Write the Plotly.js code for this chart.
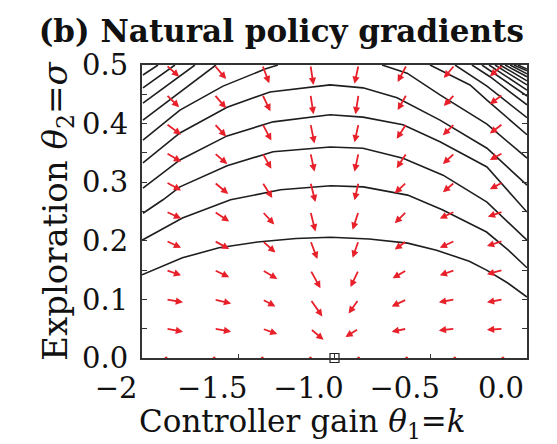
<!DOCTYPE html>
<html>
<head>
<meta charset="utf-8">
<script src="https://cdn.plot.ly/plotly-3.0.1.min.js"></script>
<style>html,body{margin:0;padding:0;background:#fff;}#chart{width:557px;height:444px;}</style>
</head>
<body>
<div id="chart"></div>
<script>
// Vector-field grid (arrow tails)
const K_GRID = [-1.875, -1.625, -1.375, -1.125, -0.875, -0.625, -0.375, -0.125];
const S_GRID = [0.05, 0.10, 0.15, 0.20, 0.25, 0.30, 0.35, 0.40, 0.45, 0.50];
// Natural-gradient components (d theta1, d theta2) per row of S_GRID
const U = [
  [0.088, 0.088, 0.078, 0.068, -0.068, -0.078, -0.083, -0.083],
  [0.088, 0.088, 0.068, 0.062, -0.052, -0.078, -0.083, -0.083],
  [0.078, 0.078, 0.078, 0.052, -0.042, -0.073, -0.078, -0.083],
  [0.078, 0.078, 0.068, 0.036, -0.031, -0.062, -0.078, -0.083],
  [0.078, 0.078, 0.062, 0.026, -0.031, -0.062, -0.078, -0.078],
  [0.078, 0.073, 0.052, 0.026, -0.021, -0.062, -0.062, -0.068],
  [0.078, 0.068, 0.047, 0.021, -0.021, -0.052, -0.062, -0.068],
  [0.078, 0.062, 0.047, 0.021, -0.021, -0.052, -0.062, -0.068],
  [0.068, 0.062, 0.042, 0.016, -0.016, -0.047, -0.057, -0.068],
  [0.068, 0.062, 0.036, 0.016, -0.021, -0.047, -0.057, -0.068]
];
const V = [
  [-0.005, -0.005, -0.009, -0.019, -0.014, -0.005, -0.003, -0.002],
  [-0.005, -0.007, -0.012, -0.029, -0.024, -0.012, -0.005, -0.005],
  [-0.009, -0.012, -0.015, -0.031, -0.029, -0.014, -0.009, -0.007],
  [-0.012, -0.014, -0.020, -0.031, -0.029, -0.015, -0.012, -0.009],
  [-0.012, -0.017, -0.022, -0.034, -0.031, -0.020, -0.012, -0.009],
  [-0.014, -0.020, -0.027, -0.034, -0.031, -0.019, -0.017, -0.012],
  [-0.015, -0.019, -0.027, -0.032, -0.032, -0.026, -0.019, -0.012],
  [-0.019, -0.022, -0.029, -0.034, -0.032, -0.026, -0.020, -0.017],
  [-0.022, -0.024, -0.029, -0.034, -0.034, -0.027, -0.020, -0.017],
  [-0.020, -0.024, -0.031, -0.034, -0.032, -0.029, -0.022, -0.019]
];
// Contour lines of the expected cost
const contourK = [
  [-2, -1.79, -1.60, -1.40, -1.20, -1.02, -0.82, -0.62, -0.47, -0.30, -0.21, -0.10, 0],
  [-2, -1.79, -1.54, -1.28, -1.02, -0.85, -0.62, -0.44, -0.21, -0.10, 0],
  [-1.995, -1.891, -1.803, -1.558, -1.319, -1.023, -0.852, -0.644, -0.436, -0.208, 0],
  [-1.995, -1.803, -1.558, -1.319, -1.023, -0.852, -0.644, -0.452, -0.208, 0],
  [-1.995, -1.803, -1.558, -1.335, -1.023, -0.852, -0.675, -0.452, -0.208, 0],
  [-1.995, -1.803, -1.579, -1.361, -1.294],
  [-0.753, -0.623, -0.452, -0.208, 0],
  [-1.995, -1.829, -1.631, -1.616],
  [-1.995, -1.855, -1.725],
  [-1.995, -1.829],
  [-1.995, -1.917],
  [-0.504, -0.296, -0.208, 0],
  [-0.374, -0.208, 0],
  [-0.286, -0.192, 0],
  [-0.234, 0],
  [-0.197, 0],
  [-0.166, 0],
  [-0.140, 0],
  [-0.114, 0],
  [-0.088, 0],
  [-0.068, 0],
  [-0.047, 0]
];
const contourS = [
  [0.142, 0.171, 0.188, 0.198, 0.204, 0.206, 0.203, 0.196, 0.184, 0.165, 0.150, 0.128, 0.104],
  [0.201, 0.239, 0.270, 0.287, 0.294, 0.292, 0.278, 0.253, 0.215, 0.185, 0.154],
  [0.247, 0.270, 0.292, 0.328, 0.352, 0.360, 0.358, 0.341, 0.312, 0.266, 0.201],
  [0.290, 0.338, 0.379, 0.403, 0.415, 0.411, 0.398, 0.369, 0.326, 0.249],
  [0.333, 0.384, 0.428, 0.454, 0.466, 0.461, 0.444, 0.406, 0.358, 0.295],
  [0.372, 0.423, 0.464, 0.493, 0.5],
  [0.5, 0.486, 0.449, 0.399, 0.341],
  [0.406, 0.447, 0.497, 0.5],
  [0.435, 0.469, 0.5],
  [0.461, 0.5],
  [0.483, 0.5],
  [0.5, 0.466, 0.440, 0.381],
  [0.5, 0.464, 0.410],
  [0.5, 0.480, 0.432],
  [0.5, 0.447],
  [0.5, 0.457],
  [0.5, 0.466],
  [0.5, 0.473],
  [0.5, 0.480],
  [0.5, 0.485],
  [0.5, 0.490],
  [0.5, 0.493]
];
const X_TICKS = [-2, -1.5, -1, -0.5, 0];
const X_TICKTEXT = ['\u22122', '\u22121.5', '\u22121.0', '\u22120.5', '0.0'];
const Y_TICKS = [0, 0.1, 0.2, 0.3, 0.4, 0.5];
const Y_TICKTEXT = ['0.0', '0.1', '0.2', '0.3', '0.4', '0.5'];
const OPT_K = [-1];
const OPT_S = [0];

const SERIF = '"DejaVu Serif", "Liberation Serif", serif';
const traces = [];
for (let i = 0; i < contourK.length; i++) {
  traces.push({x: contourK[i], y: contourS[i], mode: 'lines', type: 'scatter',
    line: {color: '#1e1e1e', width: 1.6}, hoverinfo: 'skip', showlegend: false});
}
// zero-length field at sigma = 0
traces.push({x: K_GRID, y: K_GRID.map(() => 0), mode: 'markers', type: 'scatter',
  marker: {color: '#e8202a', size: 3}, cliponaxis: false, showlegend: false});
traces.push({x: OPT_K, y: OPT_S, mode: 'markers', type: 'scatter',
  marker: {symbol: 'square-open', color: '#222', size: 9, line: {width: 1.2}},
  cliponaxis: false, showlegend: false});

const annotations = [];
for (let r = 0; r < S_GRID.length; r++) {
  for (let c = 0; c < K_GRID.length; c++) {
    annotations.push({x: K_GRID[c] + U[r][c], y: S_GRID[r] + V[r][c],
      ax: K_GRID[c], ay: S_GRID[r], xref: 'x', yref: 'y', axref: 'x', ayref: 'y',
      text: '', showarrow: true, arrowhead: 2, arrowsize: 0.8, arrowwidth: 1.8,
      arrowcolor: '#e8202a', standoff: 0, startstandoff: 0});
  }
}
annotations.push({text: 'Controller gain <i>θ</i><sub>1</sub>=<i>k</i>', xref: 'paper', yref: 'paper',
  x: 0.416, y: -0.225, xanchor: 'center', yanchor: 'middle', showarrow: false,
  font: {family: SERIF, size: 31, color: '#111'}});

const layout = {
  width: 557, height: 444,
  margin: {l: 142, r: 30, t: 65, b: 86},
  paper_bgcolor: '#fff', plot_bgcolor: '#fff',
  showlegend: false,
  title: {text: '<b>(b) Natural policy gradients</b>', xref: 'container', x: 0.505, xanchor: 'center',
    yref: 'container', y: 0.93, yanchor: 'middle', font: {family: SERIF, size: 31, color: '#111'}},
  xaxis: {range: [-2, 0], tickvals: X_TICKS, ticktext: X_TICKTEXT, ticks: 'inside', ticklen: 4,
    tickcolor: '#333', showline: true, mirror: true, linecolor: '#333', linewidth: 2,
    showgrid: false, zeroline: false, ticklabelshift: -26, ticklabelstandoff: 3,
    tickfont: {family: SERIF, size: 29, color: '#111'}},
  yaxis: {range: [0, 0.5], tickvals: Y_TICKS, ticktext: Y_TICKTEXT, ticks: 'inside', ticklen: 5,
    tickcolor: '#333', showline: true, mirror: 'ticks', linecolor: '#333', linewidth: 2,
    showgrid: false, zeroline: false, ticklabelstandoff: 6,
    minor: {dtick: 0.05, tick0: 0, ticks: 'inside', ticklen: 5, tickcolor: '#333'},
    tickfont: {family: SERIF, size: 29, color: '#111'},
    title: {text: 'Exploration <i>θ</i><sub>2</sub>=<i>σ</i>', standoff: 4,
      font: {family: SERIF, size: 34, color: '#111'}}},
  annotations: annotations
};
Plotly.newPlot('chart', traces, layout, {staticPlot: true, displayModeBar: false});
</script>
</body>
</html>
